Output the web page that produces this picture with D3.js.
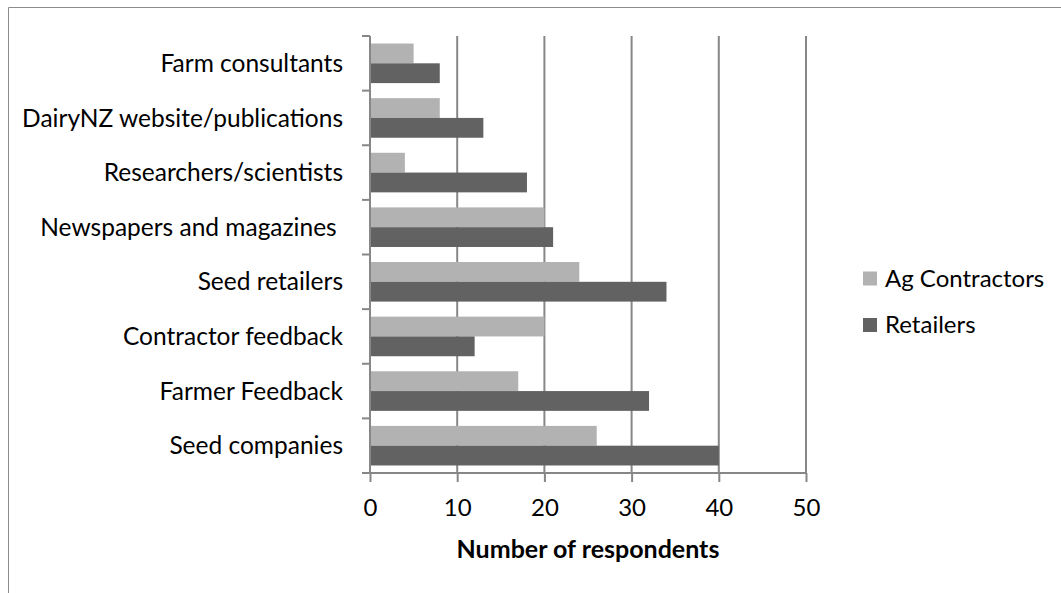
<!DOCTYPE html>
<html>
<head>
<meta charset="utf-8">
<script src="https://cdn.jsdelivr.net/npm/d3@7"></script>
<style>
  html, body { margin: 0; padding: 0; background: #fff; }
  svg { display: block; }
  text { font-family: Lato, "Open Sans", sans-serif; fill: #000; }
</style>
</head>
<body>
<svg id="chart" width="1061" height="593"></svg>
<script>
// Information sources, listed top to bottom as drawn
const categories = [
  "Farm consultants",
  "DairyNZ website/publications",
  "Researchers/scientists",
  "Newspapers and magazines ",
  "Seed retailers",
  "Contractor feedback",
  "Farmer Feedback",
  "Seed companies"
];
const seriesNames = ["Ag Contractors", "Retailers"];
const agContractors = [5, 8, 4, 20, 24, 20, 17, 26];
const retailers = [8, 13, 18, 21, 34, 12, 32, 40];
const xTicks = [0, 10, 20, 30, 40, 50];
const xTitle = "Number of respondents";

const colors = { "Ag Contractors": "#b2b2b2", "Retailers": "#626262" };
const gridColor = "#878787";

const svg = d3.select("#chart");

// Chart frame
svg.append("path")
  .attr("d", "M8.5,593 V7.5 H1061")
  .attr("fill", "none")
  .attr("stroke", "#8c8c8c")
  .attr("stroke-width", 1);

const plot = { left: 370, right: 806, top: 36, bottom: 473 };

const x = d3.scaleLinear()
  .domain([xTicks[0], xTicks[xTicks.length - 1]])
  .range([plot.left, plot.right]);

const y = d3.scaleBand()
  .domain(categories)
  .range([plot.top, plot.bottom])
  .paddingInner(0)
  .paddingOuter(0);

const inner = d3.scaleBand()
  .domain(seriesNames)
  .range([0, y.bandwidth()])
  .paddingOuter(0.38)
  .paddingInner(0);

// Vertical gridlines
svg.append("g")
  .selectAll("line")
  .data(xTicks.slice(1))
  .join("line")
  .attr("x1", d => x(d)).attr("x2", d => x(d))
  .attr("y1", plot.top).attr("y2", plot.bottom)
  .attr("stroke", gridColor)
  .attr("stroke-width", 2);

// Bars
const rows = categories.map((c, i) => ({
  category: c,
  values: [
    { series: "Ag Contractors", value: agContractors[i] },
    { series: "Retailers", value: retailers[i] }
  ]
}));

svg.append("g")
  .selectAll("g")
  .data(rows)
  .join("g")
  .attr("transform", d => `translate(0,${y(d.category)})`)
  .selectAll("rect")
  .data(d => d.values)
  .join("rect")
  .attr("x", x(0))
  .attr("y", d => inner(d.series))
  .attr("width", d => x(d.value) - x(0))
  .attr("height", inner.bandwidth())
  .attr("fill", d => colors[d.series]);

// Category axis (left)
const yAxis = svg.append("g")
  .attr("transform", `translate(${plot.left},0)`);
yAxis.append("line")
  .attr("x1", 0).attr("x2", 0)
  .attr("y1", plot.top).attr("y2", plot.bottom)
  .attr("stroke", gridColor).attr("stroke-width", 2);
const boundaries = categories.map(c => y(c)).concat([plot.bottom]);
yAxis.selectAll("line.tick")
  .data(boundaries)
  .join("line")
  .attr("class", "tick")
  .attr("x1", -8).attr("x2", 0)
  .attr("y1", d => d).attr("y2", d => d)
  .attr("stroke", gridColor).attr("stroke-width", 2);
yAxis.selectAll("text")
  .data(categories)
  .join("text")
  .attr("x", -27)
  .attr("y", d => y(d) + y.bandwidth() / 2)
  .attr("dy", "0.35em")
  .attr("text-anchor", "end")
  .style("white-space", "pre")
  .style("font-size", "24.5px")
  .text(d => d);

// Value axis (bottom)
const xAxis = d3.axisBottom(x)
  .tickValues(xTicks)
  .tickSize(9)
  .tickPadding(17)
  .tickFormat(d3.format("d"));
const xg = svg.append("g")
  .attr("transform", `translate(0,${plot.bottom})`)
  .call(xAxis);
xg.select(".domain").remove();
xg.insert("line", ":first-child")
  .attr("x1", plot.left - 8).attr("x2", plot.right)
  .attr("y1", 0).attr("y2", 0)
  .attr("stroke", gridColor).attr("stroke-width", 2);
xg.selectAll(".tick line").attr("stroke", gridColor).attr("stroke-width", 2);
xg.selectAll(".tick text")
  .style("font-size", "24px")
  .style("font-family", "Lato, 'Open Sans', sans-serif")
  .attr("fill", "#000");

svg.append("text")
  .attr("x", (plot.left + plot.right) / 2)
  .attr("y", 549)
  .attr("dy", "0.35em")
  .attr("text-anchor", "middle")
  .style("font-size", "25px")
  .style("font-weight", "bold")
  .text(xTitle);

// Legend
const legend = svg.append("g").attr("transform", "translate(863,0)");
const legendY = [278.5, 325];
legend.selectAll("rect")
  .data(seriesNames)
  .join("rect")
  .attr("x", 0)
  .attr("y", (d, i) => legendY[i] - 7)
  .attr("width", 14).attr("height", 14)
  .attr("fill", d => colors[d]);
legend.selectAll("text")
  .data(seriesNames)
  .join("text")
  .attr("x", 22)
  .attr("y", (d, i) => legendY[i])
  .attr("dy", "0.35em")
  .style("font-size", "24px")
  .text(d => d);
</script>
</body>
</html>
